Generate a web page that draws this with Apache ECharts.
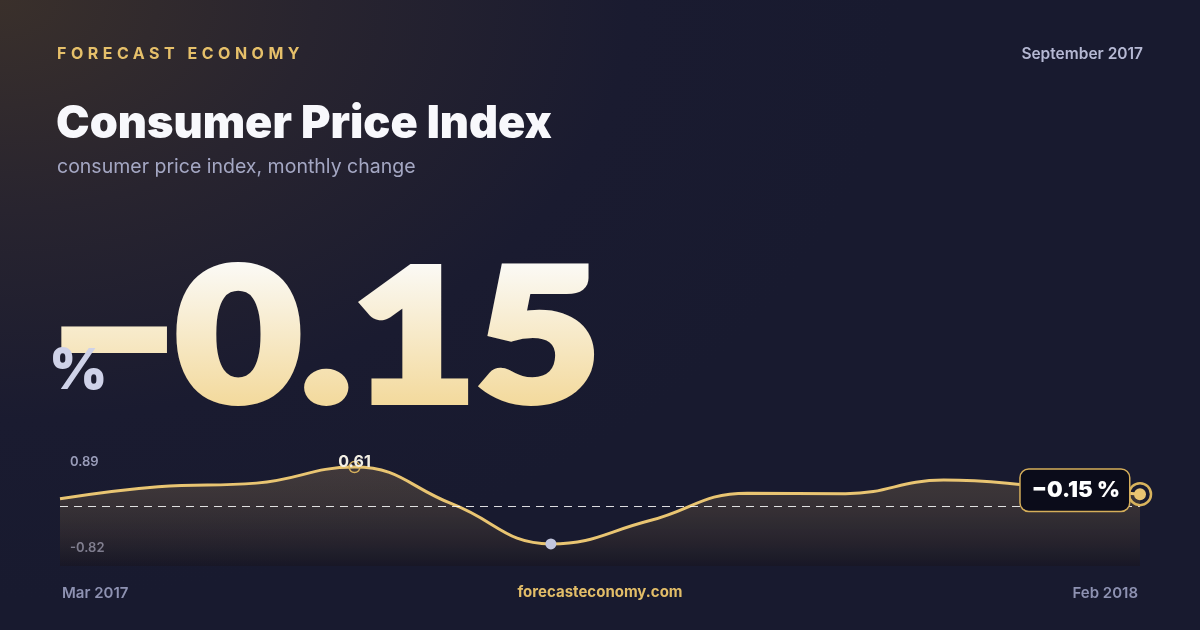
<!DOCTYPE html>
<html>
<head>
<meta charset="utf-8">
<title>Consumer Price Index</title>
<script src="https://cdn.jsdelivr.net/npm/echarts@6/dist/echarts.min.js"></script>
<style>
  html, body { margin: 0; padding: 0; width: 1200px; height: 630px; overflow: hidden; }
  body {
    background: radial-gradient(ellipse 900px 600px at 0% 0%, #3a302b 0%, #28242f 35%, #1a1b30 70%, #181a2f 100%);
    font-family: Inter, "Noto Sans", sans-serif;
  }
  #main { position: absolute; left: 0; top: 0; width: 1200px; height: 630px; }
  #brand {
    position: absolute; left: 57px; top: 43px;
    font: 700 16px Inter, sans-serif; letter-spacing: 4.5px; color: #e6c06a;
  }
</style>
</head>
<body>
<div id="main"></div>
<div id="brand">FORECAST ECONOMY</div>
<script>
// monthly change, Mar 2017 - Feb 2018
var months = ['Mar 2017', 'Apr 2017', 'May 2017', 'Jun 2017', 'Jul 2017', 'Aug 2017',
              'Sep 2017', 'Oct 2017', 'Nov 2017', 'Dec 2017', 'Jan 2018', 'Feb 2018'];
var cpiValues = [0.16, 0.40, 0.47, 0.79, 0.05, -0.74, -0.28, 0.27, 0.26, 0.53, 0.41, 0.25];
var yTickLabels = [0.89, -0.82];
var peakReading = '0.61';
var latestReading = '\u22120.15';

var myChart = echarts.init(document.getElementById('main'));

var gold = '#e9c572';

// big number: zrender text can't take a gradient, so the plain copy sits on its
// own layer (zlevel 1) and a gradient rect is painted "source-atop" over it.
// the shadow copy stays on the base layer underneath.
var bigText = function (zlevel, z, extra) {
  var st = {
    x: 0, y: 0, text: latestReading, font: '900 184px Lato', verticalAlign: 'middle',
    fill: '#ffffff', stroke: '#ffffff', lineWidth: 8, lineJoin: 'round'
  };
  for (var k in extra) st[k] = extra[k];
  return { type: 'text', zlevel: zlevel, z: z, x: 52, y: 342, scaleX: 1.165, silent: true, style: st };
};

var option = {
  backgroundColor: 'transparent',
  animation: false,
  grid: { left: 60, right: 60, top: 456, bottom: 64 },
  xAxis: {
    type: 'category',
    data: months,
    boundaryGap: false,
    axisLine: { show: false },
    axisTick: { show: false },
    splitLine: { show: false },
    axisLabel: {
      interval: function (i) { return i === 0 || i === months.length - 1; },
      alignMinLabel: 'left',
      alignMaxLabel: 'right',
      margin: 20,
      padding: [0, 2, 0, 2],
      color: '#8e92b2',
      fontFamily: 'Inter',
      fontSize: 15,
      fontWeight: 600
    }
  },
  yAxis: {
    type: 'value',
    min: -1.18,
    max: 1.01,
    splitLine: { show: false },
    axisLine: { show: false },
    axisTick: { show: false },
    axisLabel: {
      inside: true,
      customValues: yTickLabels,
      margin: 10,
      color: '#9a9dba',
      fontFamily: 'Inter',
      fontSize: 13,
      fontWeight: 600,
      formatter: function (v) { return v.toFixed(2); }
    }
  },
  graphic: [
    {
      type: 'text', right: 57, top: 46,
      style: { text: 'September 2017', fill: '#b5b8d3', font: '600 15.5px Inter' }
    },
    {
      type: 'text',
      style: { x: 56, y: 124, text: 'Consumer Price Index', fill: '#f8f8fc', font: '900 45px Inter', verticalAlign: 'middle' }
    },
    {
      type: 'text',
      style: { x: 57, y: 167, text: 'consumer price index, monthly change', fill: '#a4a7c3', font: '400 19.5px Inter', verticalAlign: 'middle' }
    },
    bigText(0, 9, {
      fill: 'rgba(6,6,16,0.6)', stroke: 'rgba(6,6,16,0.6)',
      shadowBlur: 26, shadowOffsetY: 10, shadowColor: 'rgba(0,0,0,0.6)'
    }),
    bigText(1, 10, {}),
    {
      type: 'rect', zlevel: 1, z: 11, silent: true,
      shape: { x: 30, y: 230, width: 620, height: 200 },
      style: {
        blend: 'source-atop',
        fill: new echarts.graphic.LinearGradient(0, 262, 0, 407, [
          { offset: 0, color: '#fbfaf6' },
          { offset: 1, color: '#f3d99b' }
        ], true)
      }
    },
    {
      type: 'text', zlevel: 1, z: 13,
      style: { x: 49, y: 372, text: '%', fill: '#cfd2e8', font: '900 56px Inter', verticalAlign: 'middle' }
    },
    {
      type: 'text',
      style: { x: 600, y: 592, text: 'forecasteconomy.com', fill: '#e2bd68', font: '700 15px Inter', align: 'center', verticalAlign: 'middle' }
    }
  ],
  series: [{
    type: 'line',
    data: cpiValues,
    smooth: 0.45,
    symbol: 'none',
    lineStyle: { color: gold, width: 3 },
    areaStyle: {
      origin: 'start',
      color: new echarts.graphic.LinearGradient(0, 0, 0, 1, [
        { offset: 0, color: 'rgba(236,190,110,0.27)' },
        { offset: 1, color: 'rgba(24,18,20,0.45)' }
      ])
    },
    markLine: {
      silent: true,
      symbol: 'none',
      label: { show: false },
      lineStyle: { color: '#ffffff', type: [8, 6], width: 1.2, opacity: 0.85 },
      data: [{ yAxis: 0 }]
    },
    markPoint: {
      silent: true,
      data: [
        {
          type: 'max', symbol: 'circle', symbolSize: 11,
          itemStyle: { color: 'rgba(0,0,0,0)', borderColor: '#d6b05c', borderWidth: 1.5 },
          label: {
            show: true, position: 'inside', offset: [0, -5],
            formatter: peakReading, color: '#f3efe4',
            fontFamily: 'Inter', fontSize: 16, fontWeight: 700
          }
        },
        {
          type: 'min', symbol: 'circle', symbolSize: 11,
          itemStyle: { color: '#c2c6dd' },
          label: { show: false }
        },
        {
          coord: [months.length - 1, cpiValues[cpiValues.length - 1]],
          symbol: 'circle', symbolSize: 22,
          itemStyle: { color: 'rgba(0,0,0,0)', borderColor: '#d8b35d', borderWidth: 2.5 },
          label: { show: false }
        },
        {
          coord: [months.length - 1, cpiValues[cpiValues.length - 1]],
          symbol: 'circle', symbolSize: 12,
          itemStyle: { color: gold },
          label: {
            show: true, position: 'left', distance: 5, offset: [0, -4],
            formatter: latestReading + ' %',
            color: '#ffffff', fontFamily: 'Inter', fontSize: 22, fontWeight: 900,
            backgroundColor: '#0b0c1a', borderColor: '#d5ae5a', borderWidth: 1.5,
            borderRadius: 8, padding: [10, 9, 9, 11]
          }
        }
      ]
    }
  }]
};

myChart.setOption(option);
window.onresize = myChart.resize;
</script>
</body>
</html>
